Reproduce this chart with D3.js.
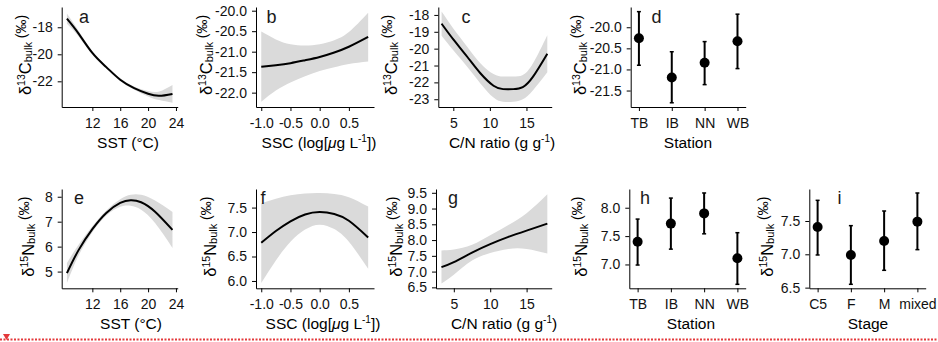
<!DOCTYPE html>
<html>
<head>
<meta charset="utf-8">
<script src="https://cdn.jsdelivr.net/npm/d3@7"></script>
<style>
  body { margin: 0; background: #fff; }
  svg { display: block; }
  text { font-family: "Liberation Sans", Arial, Helvetica, sans-serif; }
</style>
</head>
<body>
<svg id="chart" width="938" height="342"></svg>
<script>
// ---- data ----
// a: d13C vs SST
const sstC = [8.35, 10, 12, 14, 16, 18, 20, 21.6, 23.5];
const c13SstFit = [-17.36, -18.45, -19.9, -20.95, -21.88, -22.5, -22.92, -23.07, -22.93];
const c13SstHi  = [-16.98, -18.23, -19.77, -20.85, -21.78, -22.38, -22.72, -22.75, -22.27];
const c13SstLo  = [-17.74, -18.67, -20.03, -21.05, -21.98, -22.62, -23.12, -23.39, -23.59];

// b: d13C vs SSC
const sscC = [-1.0, -0.75, -0.5, -0.25, 0, 0.25, 0.5, 0.83];
const c13SscFit = [-21.37, -21.33, -21.28, -21.21, -21.13, -21.02, -20.88, -20.64];
const c13SscHi  = [-20.51, -20.7, -20.82, -20.85, -20.82, -20.72, -20.52, -20.05];
const c13SscLo  = [-22.22, -21.95, -21.75, -21.6, -21.47, -21.38, -21.3, -21.24];

// c: d13C vs C/N
const cnC = [3.4, 5, 6.9, 8.7, 10.5, 11.8, 13.2, 14.5, 15.9, 17.85];
const c13CnFit = [-18.52, -19.45, -20.48, -21.46, -22.2, -22.4, -22.4, -22.28, -21.66, -20.3];
const c13CnHi  = [-17.8, -18.8, -19.88, -20.86, -21.5, -21.65, -21.65, -21.56, -20.86, -19.2];
const c13CnLo  = [-19.24, -20.1, -21.08, -22.06, -22.9, -23.15, -23.15, -23.0, -22.46, -21.4];

// d / h: station means with error bars
const stations = ["TB", "IB", "NN", "WB"];
const c13StMean = [-20.26, -21.19, -20.84, -20.33];
const c13StLo   = [-20.9, -21.79, -21.36, -20.98];
const c13StHi   = [-19.63, -20.58, -20.34, -19.69];

// e: d15N vs SST
const sstN = [8.35, 10, 12, 14, 16, 17.5, 19, 21, 23.5];
const n15SstFit = [4.94, 5.85, 6.7, 7.35, 7.75, 7.86, 7.78, 7.4, 6.67];
const n15SstHi  = [5.34, 6.07, 6.82, 7.45, 7.9, 8.08, 8.08, 7.85, 7.39];
const n15SstLo  = [4.54, 5.63, 6.58, 7.25, 7.6, 7.64, 7.48, 6.95, 5.95];

// f: d15N vs SSC
const sscN = [-1.0, -0.75, -0.5, -0.25, 0, 0.25, 0.5, 0.83];
const n15SscFit = [6.78, 7.02, 7.22, 7.36, 7.41, 7.37, 7.23, 6.89];
const n15SscHi  = [7.59, 7.68, 7.75, 7.79, 7.8, 7.78, 7.71, 7.52];
const n15SscLo  = [5.96, 6.42, 6.8, 7.05, 7.15, 7.06, 6.8, 6.25];

// g: d15N vs C/N
const cnN = [3.3, 5, 7.5, 10, 12.5, 15, 17.85];
const n15CnFit = [7.14, 7.3, 7.6, 7.87, 8.1, 8.3, 8.52];
const n15CnHi  = [7.67, 7.7, 7.85, 8.15, 8.48, 8.85, 9.45];
const n15CnLo  = [6.62, 6.9, 7.35, 7.59, 7.72, 7.72, 7.57];

const n15StMean = [7.4, 7.72, 7.9, 7.11];
const n15StLo   = [6.99, 7.27, 7.54, 6.65];
const n15StHi   = [7.8, 8.17, 8.26, 7.56];

// i: d15N by stage
const stages = ["C5", "F", "M", "mixed"];
const n15StgMean = [7.41, 6.99, 7.2, 7.49];
const n15StgLo   = [6.99, 6.55, 6.76, 7.07];
const n15StgHi   = [7.81, 7.43, 7.65, 7.92];

// tick values
const sstTicks = [12, 16, 20, 24];
const sscTicks = [-1.0, -0.5, 0.0, 0.5];
const cnTicks = [5, 10, 15];

// ---- drawing ----
const svg = d3.select("#chart");
const ROW1 = { top: 7, bottom: 107 };
const ROW2 = { top: 189, bottom: 288.3 };

const hyph = f => v => f(v).replace("−", "-");

function styleAxis(g) {
  g.attr("font-family", null).attr("font-size", 14);
  g.select(".domain").attr("stroke", "#000").attr("stroke-width", 1);
  g.selectAll(".tick line").attr("stroke", "#000").attr("stroke-width", 1);
  g.selectAll(".tick text").attr("fill", "#111");
}

function drawAxes(p, x, y) {
  const xa = svg.append("g").attr("transform", `translate(0,${p.row.bottom})`)
    .call(p.xAxis(x).tickSize(4).tickSizeOuter(0).tickPadding(7));
  styleAxis(xa);
  const ya = svg.append("g").attr("transform", `translate(${p.left},0)`)
    .call(d3.axisLeft(y).tickValues(p.yTicks).tickFormat(hyph(d3.format(p.yFmt)))
      .tickSize(4).tickSizeOuter(0).tickPadding(5));
  styleAxis(ya);
}

function yTitle(p) {
  const t = svg.append("text")
    .attr("transform", `translate(${p.titleX},${(p.row.top + p.row.bottom) / 2 - 2}) rotate(-90)`)
    .attr("text-anchor", "middle").attr("font-size", 16.5).attr("fill", "#000");
  t.append("tspan").text("δ");
  t.append("tspan").attr("font-size", 10.5).attr("dy", -6.5).text(p.iso);
  t.append("tspan").attr("dy", 6.5).text(p.el);
  t.append("tspan").attr("font-size", 11).attr("dy", 1).text("bulk");
  t.append("tspan").attr("font-size", 14).attr("dy", -1).text(" ");
  t.append("tspan").attr("font-size", 14).attr("dy", -5).text("(‰)");
}

function xTitle(p) {
  const t = svg.append("text").attr("x", p.xTitleX).attr("y", p.row.bottom + 40.5)
    .attr("text-anchor", "middle").attr("font-size", 15.5).attr("fill", "#000");
  p.xTitle(t);
}

function panelLetter(p) {
  svg.append("text").attr("x", p.letterX).attr("y", p.row.top + (p.row === ROW1 ? 16 : 14.5))
    .attr("font-size", 18).attr("fill", "#1a1a1a").text(p.letter);
}

function smoothPanel(p) {
  const x = d3.scaleLinear().domain(p.xDomain).range([p.left, p.right]);
  const y = d3.scaleLinear().domain(p.yDomain).range([p.row.bottom, p.row.top]);
  const rows = p.xs.map((v, i) => ({ x: v, fit: p.fit[i], lo: p.lo[i], hi: p.hi[i] }));
  svg.append("path").datum(rows).attr("fill", "#dadada")
    .attr("d", d3.area().x(d => x(d.x)).y0(d => y(d.lo)).y1(d => y(d.hi)).curve(d3.curveNatural));
  svg.append("path").datum(rows).attr("fill", "none").attr("stroke", "#000").attr("stroke-width", 2)
    .attr("d", d3.line().x(d => x(d.x)).y(d => y(d.fit)).curve(d3.curveNatural));
  p.xAxis = s => d3.axisBottom(s).tickValues(p.xTicks).tickFormat(hyph(d3.format(p.xFmt)));
  drawAxes(p, x, y);
  yTitle(p); xTitle(p); panelLetter(p);
}

function pointPanel(p) {
  const x = d3.scalePoint().domain(p.cats).range([p.left, p.right]).padding(0.25);
  const y = d3.scaleLinear().domain(p.yDomain).range([p.row.bottom, p.row.top]);
  const rows = p.cats.map((c, i) => ({ c, m: p.mean[i], lo: p.lo[i], hi: p.hi[i] }));
  const g = svg.append("g");
  g.selectAll("line.bar").data(rows).join("line").attr("class", "bar")
    .attr("x1", d => x(d.c)).attr("x2", d => x(d.c))
    .attr("y1", d => y(d.lo)).attr("y2", d => y(d.hi))
    .attr("stroke", "#000").attr("stroke-width", 2);
  ["lo", "hi"].forEach(k => {
    g.selectAll("line.cap" + k).data(rows).join("line").attr("class", "cap" + k)
      .attr("x1", d => x(d.c) - 2).attr("x2", d => x(d.c) + 2)
      .attr("y1", d => y(d[k])).attr("y2", d => y(d[k]))
      .attr("stroke", "#000").attr("stroke-width", 1.5);
  });
  g.selectAll("circle").data(rows).join("circle")
    .attr("cx", d => x(d.c)).attr("cy", d => y(d.m)).attr("r", 5).attr("fill", "#000");
  p.xAxis = s => d3.axisBottom(s);
  drawAxes(p, x, y);
  yTitle(p); xTitle(p); panelLetter(p);
}

const sstTitle = t => t.text("SST (°C)");
const sscTitle = t => {
  t.append("tspan").text("SSC (log[");
  t.append("tspan").attr("font-style", "italic").text("μ");
  t.append("tspan").text("g L");
  t.append("tspan").attr("font-size", 10).attr("dy", -6).text("-1");
  t.append("tspan").attr("dy", 6).text("])");
};
const cnTitle = t => {
  t.append("tspan").text("C/N ratio (g g");
  t.append("tspan").attr("font-size", 10).attr("dy", -6).text("-1");
  t.append("tspan").attr("dy", 6).text(")");
};

smoothPanel({ row: ROW1, left: 61.7, right: 177.7, letter: "a", letterX: 79, titleX: 31, xTitleX: 128,
  iso: "13", el: "C", xs: sstC, fit: c13SstFit, lo: c13SstLo, hi: c13SstHi,
  xDomain: [7.6, 24.25], yDomain: [-23.9, -16.5], xTicks: sstTicks, xFmt: "d",
  yTicks: [-18, -20, -22], yFmt: "d", xTitle: sstTitle });
smoothPanel({ row: ROW1, left: 256, right: 374, letter: "b", letterX: 266.5, titleX: 212, xTitleX: 319,
  iso: "13", el: "C", xs: sscC, fit: c13SscFit, lo: c13SscLo, hi: c13SscHi,
  xDomain: [-1.09, 0.93], yDomain: [-22.35, -19.91], xTicks: sscTicks, xFmt: ".1f",
  yTicks: [-20, -20.5, -21, -21.5, -22], yFmt: ".1f", xTitle: sscTitle });
smoothPanel({ row: ROW1, left: 438.3, right: 551.7, letter: "c", letterX: 461.5, titleX: 397, xTitleX: 502,
  iso: "13", el: "C", xs: cnC, fit: c13CnFit, lo: c13CnLo, hi: c13CnHi,
  xDomain: [2.95, 18.45], yDomain: [-23.46, -17.53], xTicks: cnTicks, xFmt: "d",
  yTicks: [-18, -19, -20, -21, -22, -23], yFmt: "d", xTitle: cnTitle });
pointPanel({ row: ROW1, left: 630.7, right: 745.7, letter: "d", letterX: 651.5, titleX: 586, xTitleX: 688,
  iso: "13", el: "C", cats: stations, mean: c13StMean, lo: c13StLo, hi: c13StHi,
  yDomain: [-21.89, -19.52], yTicks: [-20, -20.5, -21, -21.5], yFmt: ".1f",
  xTitle: t => t.text("Station") });

smoothPanel({ row: ROW2, left: 61.7, right: 177.7, letter: "e", letterX: 74, titleX: 34, xTitleX: 131,
  iso: "15", el: "N", xs: sstN, fit: n15SstFit, lo: n15SstLo, hi: n15SstHi,
  xDomain: [7.6, 24.25], yDomain: [4.33, 8.31], xTicks: sstTicks, xFmt: "d",
  yTicks: [5, 6, 7, 8], yFmt: "d", xTitle: sstTitle });
smoothPanel({ row: ROW2, left: 256, right: 374, letter: "f", letterX: 260.5, titleX: 216, xTitleX: 323,
  iso: "15", el: "N", xs: sscN, fit: n15SscFit, lo: n15SscLo, hi: n15SscHi,
  xDomain: [-1.09, 0.93], yDomain: [5.85, 7.88], xTicks: sscTicks, xFmt: ".1f",
  yTicks: [6, 6.5, 7, 7.5], yFmt: ".1f", xTitle: sscTitle });
smoothPanel({ row: ROW2, left: 436, right: 551.7, letter: "g", letterX: 448, titleX: 402, xTitleX: 504,
  iso: "15", el: "N", xs: cnN, fit: n15CnFit, lo: n15CnLo, hi: n15CnHi,
  xDomain: [2.55, 18.45], yDomain: [6.47, 9.62], xTicks: cnTicks, xFmt: "d",
  yTicks: [6.5, 7, 7.5, 8, 8.5, 9, 9.5], yFmt: ".1f", xTitle: cnTitle });
pointPanel({ row: ROW2, left: 629.3, right: 745.7, letter: "h", letterX: 640, titleX: 587, xTitleX: 691,
  iso: "15", el: "N", cats: stations, mean: n15StMean, lo: n15StLo, hi: n15StHi,
  yDomain: [6.58, 8.33], yTicks: [7, 7.5, 8], yFmt: ".1f",
  xTitle: t => t.text("Station") });
pointPanel({ row: ROW2, left: 809.3, right: 925.7, letter: "i", letterX: 837.5, titleX: 773, xTitleX: 868,
  iso: "15", el: "N", cats: stages, mean: n15StgMean, lo: n15StgLo, hi: n15StgHi,
  yDomain: [6.49, 7.98], yTicks: [6.5, 7, 7.5], yFmt: ".1f",
  xTitle: t => t.text("Stage") });

// red dotted marker line along the bottom edge
svg.append("line").attr("x1", 0).attr("x2", 938).attr("y1", 339.5).attr("y2", 339.5)
  .attr("stroke", "#e4393b").attr("stroke-width", 2).attr("stroke-dasharray", "2,1.5");
svg.append("path").attr("d", "M3,334L10,334L6.5,340Z").attr("fill", "#e4393b");
</script>
</body>
</html>
